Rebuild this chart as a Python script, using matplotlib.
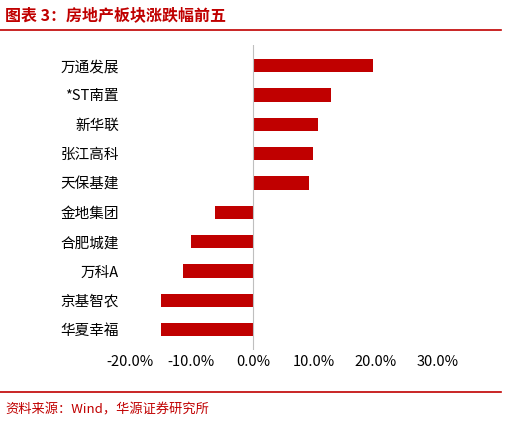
import matplotlib.pyplot as plt
from matplotlib.ticker import FuncFormatter

plt.rcParams['font.family'] = ['Noto Sans CJK SC', 'DejaVu Sans']

names = ['万通发展', '*ST南置', '新华联', '张江高科', '天保基建',
         '金地集团', '合肥城建', '万科A', '京基智农', '华夏幸福']
changes = [19.6, 12.7, 10.6, 9.8, 9.1, -6.2, -10.0, -11.4, -15.0, -15.0]

red = '#C00000'
fig = plt.figure(figsize=(5.06, 4.25), dpi=100)
ax = fig.add_axes([0.257, 0.176, 0.607, 0.718])
y = list(range(len(names)))[::-1]
ax.barh(y, changes, height=0.45, color=red)
ax.set_yticks(y)
ax.set_yticklabels(names, fontsize=10.5)
ax.set_xlim(-20, 30)
ax.set_ylim(-0.7, len(names) - 0.3)
ax.set_xticks(range(-20, 31, 10))
ax.xaxis.set_major_formatter(FuncFormatter(lambda v, p: f'{v:.1f}%'))
ax.tick_params(axis='x', labelsize=10.5, length=0)
ax.tick_params(axis='y', length=0, pad=8)
for s in ['top', 'right', 'bottom', 'left']:
    ax.spines[s].set_visible(False)
ax.axvline(0, color='#BFBFBF', lw=0.8)

fig.text(0.01, 0.965, '图表 3：房地产板块涨跌幅前五', color=red, fontsize=11.5,
         fontweight='bold', va='center')
fig.add_artist(plt.Line2D([0.0, 0.99], [0.93, 0.93], color=red, lw=1.2))
fig.add_artist(plt.Line2D([0.0, 0.99], [0.078, 0.078], color=red, lw=1.2))
fig.text(0.01, 0.035, '资料来源：Wind，华源证券研究所', color=red, fontsize=9.5, va='center')

fig.savefig('out.png', dpi=100)
